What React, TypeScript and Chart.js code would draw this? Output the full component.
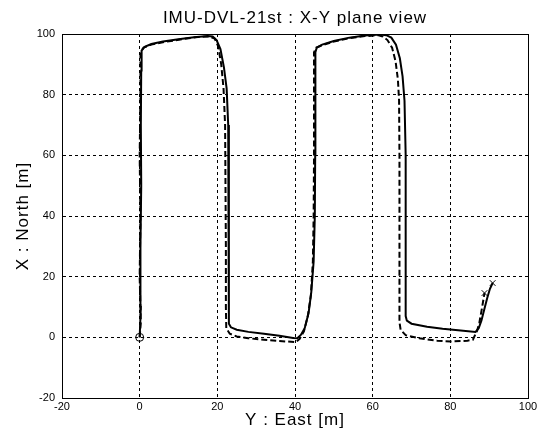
import React, { useEffect, useRef } from "react";
import { Chart, registerables } from "chart.js";

Chart.register(...registerables);

const TITLE = "IMU-DVL-21st : X-Y plane view";
const X_LABEL = "Y : East [m]";
const Y_LABEL = "X : North [m]";
const AXIS_MIN = -20;
const AXIS_MAX = 100;
const TICK_STEP = 20;

// Solid trajectory (East, North)
const solidEast = [
  0, 0.3, 0.2, 0.4, 0.3, 0.4, 0.5, 1.3, 3, 6, 10, 14, 17.5, 18.8, 19.8, 20.8, 21.7, 22.4, 22.8, 22.9, 23, 23, 23,
  23.5, 25, 28, 32, 36, 39.5, 40.6, 41.5, 42.5, 43.5, 44.2, 44.8, 45.1, 45.2, 45.2, 45.3, 45.6, 47, 50, 54, 58,
  62, 63.5, 64.8, 66, 67, 67.7, 68.2, 68.5, 68.5, 68.5, 68.5, 68.8, 70, 74, 78, 82, 86.5, 87.3, 88, 88.7, 89.5,
  90.2, 90.9,
];
const solidNorth = [
  0, 10, 30, 50, 70, 88, 94.5, 95.8, 96.7, 97.5, 98.3, 98.9, 99.3, 99.2, 98, 95, 89, 82, 70, 50, 30, 10, 4.5,
  3.3, 2.5, 1.8, 1.2, 0.5, -0.2, -0.3, 0.8, 3, 8, 15, 25, 40, 60, 80, 94, 95.5, 96.5, 97.7, 98.8, 99.5,
  99.8, 99.6, 98.8, 96.5, 92, 86, 78, 60, 40, 20, 7, 5.5, 4.5, 3.5, 2.8, 2.3, 1.8, 3, 5.5, 9, 13,
  16, 17.9,
];

// Dashed trajectory (East, North)
const dashedEast = [
  0, 0.3, 0, 0.2, 0, 0.2, 0.2, 1, 3, 7, 11, 15, 18, 19.3, 20.2, 21, 21.6, 22, 22.1, 22.2, 22.2, 22.3, 23.2,
  25, 28, 32, 36, 40.2, 41.2, 42.3, 43.3, 44.1, 44.6, 44.8, 44.9, 44.9, 44.9, 45.5, 47, 50, 54, 58, 61.5,
  62.6, 63.8, 65, 65.9, 66.5, 66.8, 66.9, 66.9, 66.9, 66.9, 67.2, 68.5, 72, 76.6, 80, 84.4, 85.8, 86.9, 87.5,
  88.2, 88.8,
];
const dashedNorth = [
  0, 5, 20, 40, 60, 80, 94, 95.5, 96.5, 97.5, 98.3, 99, 99.2, 98.5, 96, 90, 82, 70, 50, 30, 10, 3, 1.2,
  0.3, -0.3, -0.8, -1.2, -1.6, -0.5, 2, 7, 14, 25, 40, 60, 80, 94, 95.5, 96.3, 97.5, 98.6, 99.3, 99.6,
  99.2, 98, 95.5, 91, 85, 78, 60, 40, 20, 5, 2.5, 0.7, -0.3, -1.1, -1.4, -1.1, -0.8, 2.2, 5,
  10, 14.6,
];

const toPoints = (xs: number[], ys: number[]) => xs.map((x, i) => ({ x, y: ys[i] }));

const FONT_FAMILY = '"Liberation Sans", Arial, Helvetica, sans-serif';

const framePlugin = {
  id: "frame",
  afterDraw(chart: any) {
    const { ctx, chartArea: a } = chart;
    ctx.save();
    ctx.strokeStyle = "#000";
    ctx.lineWidth = 1;
    ctx.strokeRect(Math.round(a.left) + 0.5, Math.round(a.top) + 0.5, Math.round(a.right - a.left), Math.round(a.bottom - a.top));
    ctx.fillStyle = "#000";
    (ctx as any).letterSpacing = "1px";
    ctx.font = `17px ${FONT_FAMILY}`;
    ctx.textAlign = "center";
    ctx.textBaseline = "alphabetic";
    const cx = (a.left + a.right) / 2;
    ctx.fillText(TITLE, cx, 23);
    ctx.fillText(X_LABEL, cx, 425);
    ctx.translate(28, (a.top + a.bottom) / 2);
    ctx.rotate(-Math.PI / 2);
    ctx.fillText(Y_LABEL, 0, 0);
    ctx.restore();
  },
};

export default function App() {
  const ref = useRef<HTMLCanvasElement | null>(null);

  useEffect(() => {
    if (!ref.current) return;
    const edgeColor = (ctx: any) =>
      ctx.tick && (ctx.tick.value === AXIS_MIN || ctx.tick.value === AXIS_MAX) ? "rgba(0,0,0,0)" : "#000";
    const chart = new Chart(ref.current, {
      type: "scatter",
      data: {
        datasets: [
          {
            label: "solid",
            data: toPoints(solidEast, solidNorth),
            showLine: true,
            borderColor: "#000",
            borderWidth: 2,
            pointRadius: 0,
            tension: 0,
          },
          {
            label: "dashed",
            data: toPoints(dashedEast, dashedNorth),
            showLine: true,
            borderColor: "#000",
            borderWidth: 2,
            borderDash: [6, 3],
            pointRadius: 0,
            tension: 0,
          },
          {
            label: "start",
            data: [{ x: solidEast[0], y: solidNorth[0] }],
            showLine: false,
            pointStyle: "circle",
            pointRadius: 4,
            borderColor: "#000",
            borderWidth: 1,
            backgroundColor: "rgba(0,0,0,0)",
          },
          {
            label: "end",
            data: [
              { x: solidEast[solidEast.length - 1], y: solidNorth[solidNorth.length - 1] },
              { x: dashedEast[dashedEast.length - 1], y: dashedNorth[dashedNorth.length - 1] },
            ],
            showLine: false,
            pointStyle: "crossRot",
            pointRadius: 4,
            borderColor: "#000",
            borderWidth: 1,
          },
        ],
      },
      options: {
        responsive: false,
        animation: false,
        events: [],
        layout: { padding: { top: 34, right: 14, left: 0, bottom: 0 } },
        plugins: {
          legend: { display: false },
          tooltip: { enabled: false },
          title: { display: false },
        },
        scales: {
          x: {
            type: "linear",
            min: AXIS_MIN,
            max: AXIS_MAX,
            afterFit: (s: any) => {
              s.height = 43;
            },
            ticks: {
              stepSize: TICK_STEP,
              color: "#000",
              font: { family: FONT_FAMILY, size: 11 },
              padding: 2,
              maxRotation: 0,
            },
            grid: { color: edgeColor, lineWidth: 1, drawTicks: false },
            border: { display: true, color: "#000", width: 1, dash: [3, 3] },
            title: { display: false },
          },
          y: {
            type: "linear",
            min: AXIS_MIN,
            max: AXIS_MAX,
            afterFit: (s: any) => {
              s.width = 62;
            },
            ticks: {
              stepSize: TICK_STEP,
              color: "#000",
              font: { family: FONT_FAMILY, size: 11 },
              padding: 7,
            },
            grid: { color: edgeColor, lineWidth: 1, drawTicks: false },
            border: { display: true, color: "#000", width: 1, dash: [3, 3] },
            title: { display: false },
          },
        },
      },
      plugins: [framePlugin],
    } as any);
    return () => chart.destroy();
  }, []);

  return (
    <div style={{ position: "absolute", left: 0, top: 0, width: 542, height: 441, background: "#fff" }}>
      <canvas ref={ref} width={542} height={441} />
    </div>
  );
}
